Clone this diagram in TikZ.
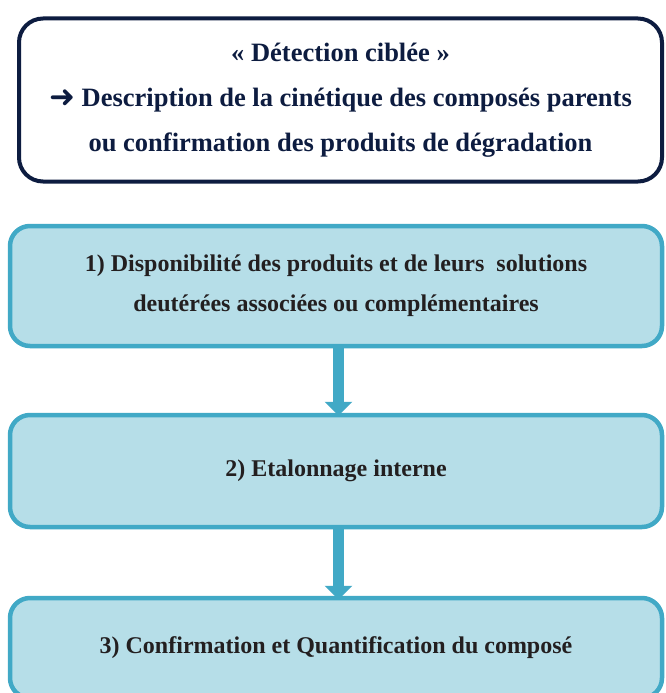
\documentclass[tikz,border=0pt]{standalone}
\usepackage{fontspec}
\setmainfont{Liberation Serif}
\newfontfamily\dejavu{DejaVu Sans}
\usetikzlibrary{arrows.meta}
\definecolor{navy}{HTML}{0D1C40}
\definecolor{tealb}{HTML}{41A9C6}
\definecolor{tealf}{HTML}{B6DEE8}
\definecolor{ink}{HTML}{231F20}
\tikzset{
  topbox/.style={draw=navy, line width=4pt, rounded corners=24pt, fill=white,
    minimum width=643pt, minimum height=163pt, text=navy, align=center,
    font=\fontsize{26.5}{45}\selectfont\bfseries, inner sep=0pt},
  stepbox/.style={draw=tealb, line width=4.5pt, rounded corners=20pt, fill=tealf,
    minimum width=652pt, text=ink, align=center,
    font=\fontsize{24}{40}\selectfont\bfseries, inner sep=0pt},
  flow/.style={draw=tealb, line width=11pt,
    -{Triangle[width=27pt,length=14pt]}}
}
\begin{document}
\begin{tikzpicture}[x=1pt,y=-1pt]
\clip (0,0) rectangle (666,693);
\fill[white] (0,0) rectangle (666,693);
\node[topbox] (top) at (340.5,100) {« Détection ciblée »\\
\raisebox{-1pt}{\dejavu\fontsize{31}{45}\selectfont ➜}\ Description de la cinétique des composés parents\\
ou confirmation des produits de dégradation};
\node[stepbox, minimum height=120pt] (b1) at (336,286) {1) Disponibilité des produits et de leurs\ \ solutions\\deutérées associées ou complémentaires};
\node[stepbox, minimum height=112pt] (b2) at (336,471) {2) Etalonnage interne};
\node[stepbox, minimum height=100pt] (b3) at (336,648) {3) Confirmation et Quantification du composé};
\draw[flow] ([xshift=2.5pt]b1.south) -- ([xshift=2.5pt,yshift=-3pt]b2.north);
\draw[flow] ([xshift=2.5pt]b2.south) -- ([xshift=2.5pt,yshift=-4pt]b3.north);
\end{tikzpicture}
\end{document}
